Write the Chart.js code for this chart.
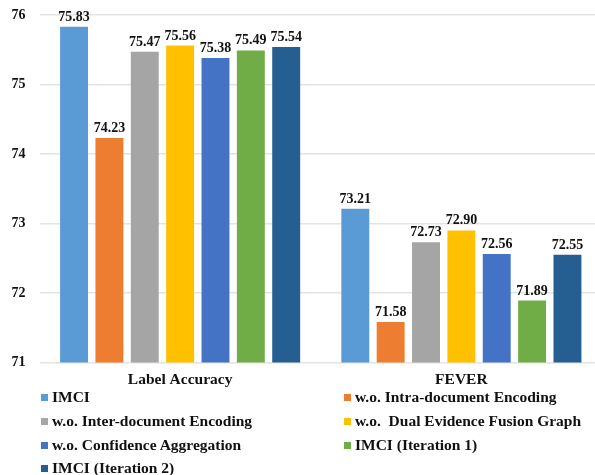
<!DOCTYPE html>
<html>
<head>
<meta charset="utf-8">
<script src="https://cdn.jsdelivr.net/npm/chart.js@4/dist/chart.umd.min.js"></script>
<style>
  html, body { margin: 0; padding: 0; background: #fff; overflow: hidden; width: 595px; height: 475px; }
  #wrap { position: relative; width: 602px; height: 397px; }
  #legend { position: absolute; left: 0; top: 385px; width: 595px; height: 90px;
            font-family: "Liberation Serif", "Times New Roman", serif; font-weight: bold; font-size: 15.5px; color: #111; }
  .item { position: absolute; white-space: pre; line-height: 18px; }
  .sw { position: absolute; width: 7px; height: 7px; }
</style>
</head>
<body>
<div id="wrap"><canvas id="c"></canvas></div>
<div id="legend"></div>
<script>
const categories = ["Label Accuracy", "FEVER"];
const seriesNames = [
  "IMCI",
  "w.o. Intra-document Encoding",
  "w.o. Inter-document Encoding",
  "w.o.  Dual Evidence Fusion Graph",
  "w.o. Confidence Aggregation",
  "IMCI (Iteration 1)",
  "IMCI (Iteration 2)"
];
const imci = [75.83, 73.21];
const woIntra = [74.23, 71.58];
const woInter = [75.47, 72.73];
const woDual = [75.56, 72.90];
const woConf = [75.38, 72.56];
const iter1 = [75.49, 71.89];
const iter2 = [75.54, 72.55];
const seriesValues = [imci, woIntra, woInter, woDual, woConf, iter1, iter2];
const colors = ["#5B9BD5", "#ED7D31", "#A5A5A5", "#FFC000", "#4472C4", "#70AD47", "#255E91"];
const yTicks = [71, 72, 73, 74, 75, 76];

const serif = "'Liberation Serif', 'Times New Roman', serif";

const valueLabels = {
  id: 'valueLabels',
  afterDatasetsDraw(chart) {
    const ctx = chart.ctx;
    ctx.save();
    ctx.font = "bold 14px " + serif;
    ctx.fillStyle = "#111";
    ctx.textAlign = "center";
    ctx.textBaseline = "alphabetic";
    chart.data.datasets.forEach((ds, i) => {
      const meta = chart.getDatasetMeta(i);
      meta.data.forEach((el, j) => {
        ctx.fillText(ds.data[j].toFixed(2), el.x, el.y - 6);
      });
    });
    ctx.restore();
  }
};

const chart = new Chart(document.getElementById('c'), {
  type: 'bar',
  data: {
    labels: categories,
    datasets: seriesNames.map((n, i) => ({
      label: n,
      data: seriesValues[i],
      backgroundColor: colors[i],
      borderWidth: 0,
      barPercentage: 0.79,
      categoryPercentage: 0.88
    }))
  },
  options: {
    responsive: true,
    maintainAspectRatio: false,
    animation: false,
    layout: { padding: { top: 15, right: 0, bottom: 0, left: 0 } },
    plugins: { legend: { display: false }, tooltip: { enabled: false } },
    scales: {
      x: {
        grid: { display: false, drawTicks: false },
        border: { display: false },
        ticks: { padding: 8, color: "#111", font: { family: serif, weight: 'bold', size: 15.5 } }
      },
      y: {
        min: 71, max: 76,
        afterBuildTicks: (s) => { s.ticks = yTicks.map(v => ({ value: v })); },
        afterFit: (s) => { s.width = 39.5; s.paddingTop = 0; s.paddingBottom = 0; },
        grid: { color: "#e3e3e3", lineWidth: 1.5, drawTicks: false },
        border: { display: false },
        ticks: { padding: 14, color: "#111", font: { family: serif, weight: 'bold', size: 14 } }
      }
    }
  },
  plugins: [valueLabels]
});

// HTML legend built from the chart's datasets (two columns)
const leg = document.getElementById('legend');
const rowsY = [12, 36, 60, 83];
const colX = [[41, 52], [344, 355]];
chart.data.datasets.forEach((ds, i) => {
  const r = Math.floor(i / 2), c = i % 2;
  const sw = document.createElement('div');
  sw.className = 'sw';
  sw.style.background = ds.backgroundColor;
  sw.style.left = colX[c][0] + 'px';
  sw.style.top = (rowsY[r] - 3.5) + 'px';
  leg.appendChild(sw);
  const t = document.createElement('div');
  t.className = 'item';
  t.textContent = ds.label;
  t.style.left = colX[c][1] + 'px';
  t.style.top = (rowsY[r] - 9) + 'px';
  leg.appendChild(t);
});
</script>
</body>
</html>
